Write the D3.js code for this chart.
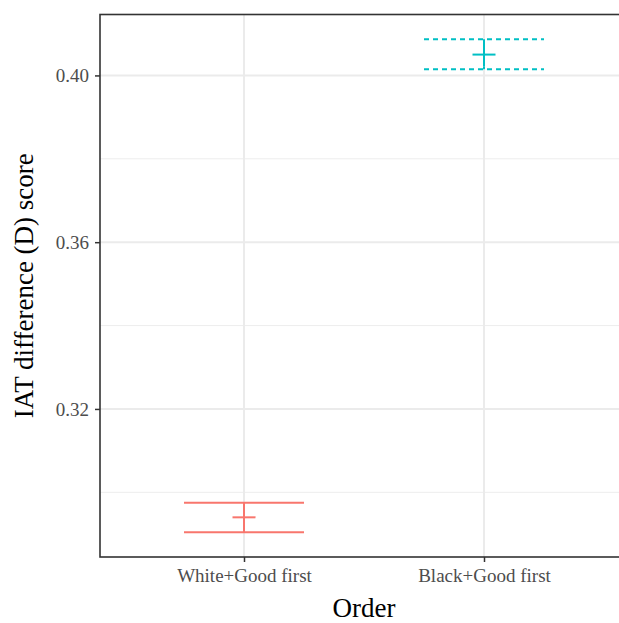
<!DOCTYPE html>
<html>
<head>
<meta charset="utf-8">
<script src="https://cdn.jsdelivr.net/npm/d3@7"></script>
<style>
  body { margin: 0; background: #fff; }
  .axis text { font-family: "Liberation Serif", "DejaVu Serif", serif; font-size: 19px; fill: #4D4D4D; }
  .axis line { stroke: #333333; stroke-width: 1.5; }
  .axis-label { font-family: "Liberation Serif", "DejaVu Serif", serif; font-size: 27px; fill: #000; }
</style>
</head>
<body>
<div id="chart"></div>
<script>
// values
const orders = ["White+Good first", "Black+Good first"];
const means = [0.2940, 0.4050];
const lower = [0.2904, 0.4015];
const upper = [0.2975, 0.4087];
const colors = ["#F8766D", "#00BFC4"];
const dashes = ["none", "5,4"];
const majorTicks = [0.32, 0.36, 0.40];
const minorTicks = [0.30, 0.34, 0.38];

const data = orders.map((o, i) => ({
  order: o, mean: means[i], lo: lower[i], hi: upper[i], color: colors[i], dash: dashes[i]
}));

const fullWidth = 619, fullHeight = 623;
const panel = { left: 100, right: 628, top: 14.5, bottom: 557 };

const svg = d3.select("#chart")
  .append("svg")
  .attr("width", fullWidth)
  .attr("height", fullHeight);

// ggplot style 5% expansion
const yMin = d3.min(lower), yMax = d3.max(upper);
const pad = (yMax - yMin) * 0.05;
const yScale = d3.scaleLinear()
  .domain([yMin - pad, yMax + pad])
  .range([panel.bottom, panel.top]);

const xScale = d3.scalePoint()
  .domain(orders)
  .range([panel.left, panel.right])
  .padding(0.6);

const step = xScale.step();

// grid
svg.selectAll(".minor")
  .data(minorTicks)
  .enter()
  .append("line")
  .attr("x1", panel.left).attr("x2", panel.right)
  .attr("y1", d => yScale(d)).attr("y2", d => yScale(d))
  .attr("stroke", "#EDEDED").attr("stroke-width", 1);

svg.selectAll(".major")
  .data(majorTicks)
  .enter()
  .append("line")
  .attr("x1", panel.left).attr("x2", panel.right)
  .attr("y1", d => yScale(d)).attr("y2", d => yScale(d))
  .attr("stroke", "#EBEBEB").attr("stroke-width", 2);

svg.selectAll(".vgrid")
  .data(orders)
  .enter()
  .append("line")
  .attr("x1", d => xScale(d)).attr("x2", d => xScale(d))
  .attr("y1", panel.top).attr("y2", panel.bottom)
  .attr("stroke", "#EBEBEB").attr("stroke-width", 2);

// error bars
const bars = svg.selectAll(".bar")
  .data(data)
  .enter()
  .append("g")
  .attr("stroke", d => d.color)
  .attr("stroke-width", 2)
  .attr("fill", "none");

const half = step * 0.25;
bars.append("line")
  .attr("x1", d => xScale(d.order) - half).attr("x2", d => xScale(d.order) + half)
  .attr("y1", d => yScale(d.hi)).attr("y2", d => yScale(d.hi))
  .attr("stroke-dasharray", d => d.dash);
bars.append("line")
  .attr("x1", d => xScale(d.order) - half).attr("x2", d => xScale(d.order) + half)
  .attr("y1", d => yScale(d.lo)).attr("y2", d => yScale(d.lo))
  .attr("stroke-dasharray", d => d.dash);
bars.append("line")
  .attr("x1", d => xScale(d.order)).attr("x2", d => xScale(d.order))
  .attr("y1", d => yScale(d.hi)).attr("y2", d => yScale(d.lo))
  .attr("stroke-dasharray", d => d.dash);

// mean as "+" point
const plus = 11.5;
bars.append("line")
  .attr("x1", d => xScale(d.order) - plus).attr("x2", d => xScale(d.order) + plus)
  .attr("y1", d => yScale(d.mean)).attr("y2", d => yScale(d.mean));
bars.append("line")
  .attr("x1", d => xScale(d.order)).attr("x2", d => xScale(d.order))
  .attr("y1", d => yScale(d.mean) - plus).attr("y2", d => yScale(d.mean) + plus);

// panel border
svg.append("rect")
  .attr("x", panel.left).attr("y", panel.top)
  .attr("width", panel.right - panel.left)
  .attr("height", panel.bottom - panel.top)
  .attr("fill", "none")
  .attr("stroke", "#333333")
  .attr("stroke-width", 1.6);

// axes
svg.append("g")
  .attr("class", "axis")
  .attr("transform", `translate(${panel.left},0)`)
  .call(d3.axisLeft(yScale).tickValues(majorTicks).tickFormat(d3.format(".2f")).tickSize(5).tickPadding(6))
  .call(g => g.select(".domain").remove());

svg.append("g")
  .attr("class", "axis")
  .attr("transform", `translate(0,${panel.bottom})`)
  .call(d3.axisBottom(xScale).tickSize(5).tickPadding(6.5))
  .call(g => g.select(".domain").remove());

svg.append("text")
  .attr("class", "axis-label")
  .attr("text-anchor", "middle")
  .attr("x", (panel.left + panel.right) / 2)
  .attr("y", 617)
  .text("Order");

svg.append("text")
  .attr("class", "axis-label")
  .attr("text-anchor", "middle")
  .attr("transform", "rotate(-90)")
  .attr("x", -(panel.top + panel.bottom) / 2)
  .attr("y", 33)
  .text("IAT difference (D) score");
</script>
</body>
</html>
